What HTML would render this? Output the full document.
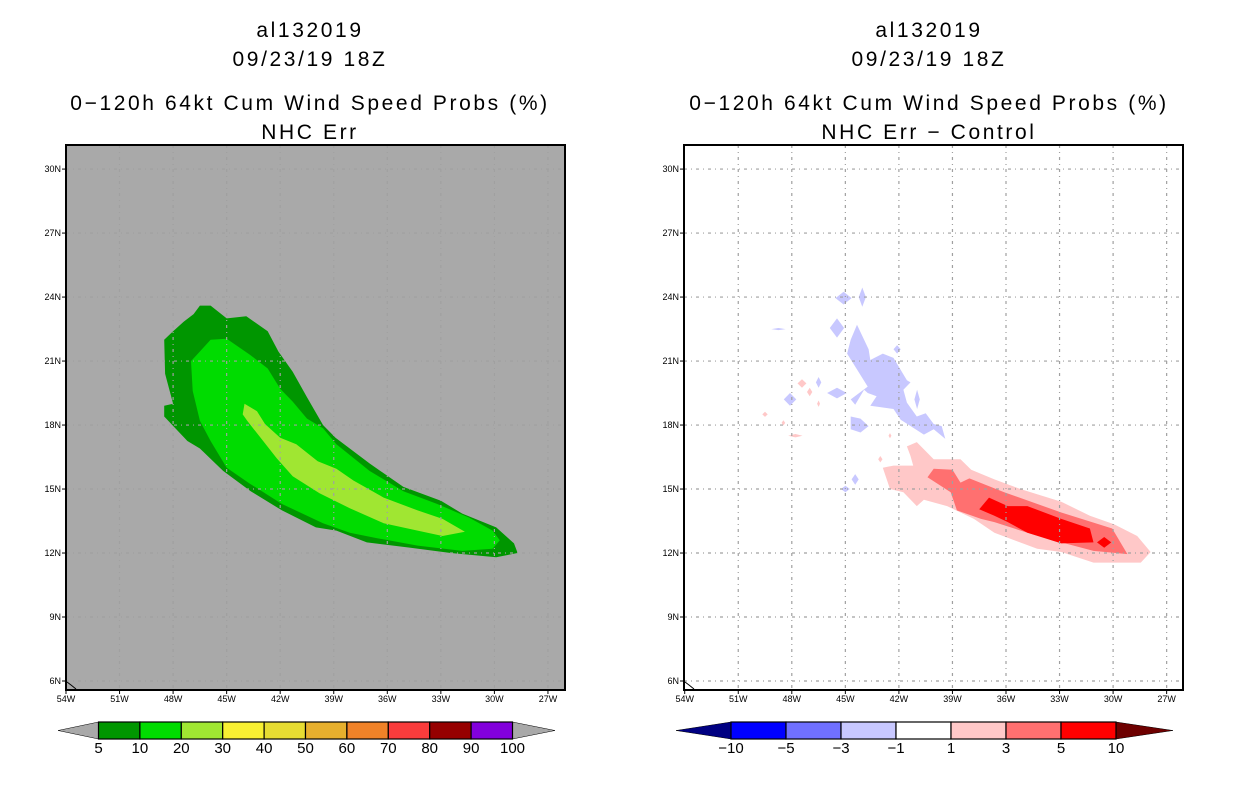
<!DOCTYPE html>
<html><head><meta charset="utf-8">
<style>
body{margin:0;background:#fff;width:1236px;height:800px;overflow:hidden;font-family:"Liberation Sans",sans-serif}
svg{display:block}
</style></head>
<body>
<svg id="fig" width="1236" height="800" xmlns="http://www.w3.org/2000/svg" font-family="Liberation Sans, sans-serif">
<g id="titles" font-size="21" text-anchor="middle" fill="#000" letter-spacing="2.6">
 <text x="310" y="37">al132019</text>
 <text x="310" y="66">09/23/19 18Z</text>
 <text x="310" y="110">0−120h 64kt Cum Wind Speed Probs (%)</text>
 <text x="310" y="139">NHC Err</text>
 <text x="929" y="37">al132019</text>
 <text x="929" y="66">09/23/19 18Z</text>
 <text x="929" y="110">0−120h 64kt Cum Wind Speed Probs (%)</text>
 <text x="929" y="139">NHC Err − Control</text>
</g>
<g id="left"></g>
<g id="right"></g>
<g id="cbl"></g>
<g id="cbr"></g>
</svg>
<script>
const NS="http://www.w3.org/2000/svg";
const lonTicks=[-54,-51,-48,-45,-42,-39,-36,-33,-30,-27];
const latTicks=[6,9,12,15,18,21,24,27,30];
// Left map contours (lon, lat)
const green5=[[-46.5,23.6],[-45.9,23.6],[-45.0,23.0],[-43.9,23.1],[-42.7,22.4],[-42.1,21.45],[-41.3,20.5],[-40.5,19.3],[-39.6,18.0],[-38.9,17.4],[-37.0,16.2],[-35.1,15.1],[-33.0,14.45],[-31.8,13.85],[-29.9,13.2],[-28.9,12.45],[-28.7,12.0],[-29.9,11.8],[-32.45,12.0],[-34.7,12.25],[-37.15,12.5],[-38.85,13.05],[-40.0,13.2],[-41.9,14.0],[-43.65,14.9],[-45.2,15.85],[-46.5,16.9],[-47.2,17.25],[-48.5,18.4],[-48.5,18.9],[-48.0,19.0],[-48.45,20.4],[-48.5,22.0],[-48.0,22.4],[-47.4,22.85],[-46.85,23.2]];
const green10=[[-45.9,22.0],[-45.0,22.05],[-43.7,21.3],[-42.7,20.65],[-42.0,19.7],[-41.3,19.1],[-40.5,18.3],[-39.6,17.85],[-38.85,17.1],[-37.0,15.85],[-35.1,14.9],[-33.2,14.3],[-31.4,13.65],[-30.1,13.05],[-29.7,12.6],[-30.1,12.2],[-31.8,12.1],[-34.3,12.35],[-36.6,12.7],[-38.1,12.95],[-39.6,13.4],[-41.9,14.3],[-43.7,15.25],[-45.0,16.0],[-45.9,17.25],[-46.5,18.2],[-46.9,19.6],[-47.0,21.0],[-46.5,21.45]];
const green20=[[-44.0,19.0],[-43.3,18.65],[-42.85,18.05],[-42.0,17.4],[-41.1,17.1],[-39.9,16.3],[-38.85,15.95],[-37.9,15.4],[-36.2,14.6],[-34.3,14.0],[-32.9,13.6],[-31.65,13.0],[-32.9,12.8],[-34.3,13.05],[-36.2,13.4],[-38.1,14.1],[-39.8,14.8],[-41.3,15.6],[-42.2,16.45],[-43.1,17.4],[-43.85,18.2],[-44.1,18.5]];
// Right map contours (lon, lat)
const pos1=[[-41.55,17.0],[-41.0,17.2],[-40.05,16.4],[-38.55,16.4],[-37.95,15.9],[-36.65,15.45],[-35.2,15.0],[-32.9,14.4],[-31.3,13.75],[-29.95,13.35],[-28.65,12.8],[-27.9,12.05],[-28.45,11.55],[-31.1,11.55],[-32.9,12.05],[-34.25,12.2],[-36.65,12.95],[-37.8,13.6],[-39.3,14.2],[-40.6,14.5],[-41.0,14.2],[-41.75,14.85],[-42.5,15.0],[-42.9,16.0],[-42.3,16.1],[-41.2,16.1],[-41.35,16.55]];
const pos3=[[-40.4,15.55],[-40.05,15.95],[-39.0,15.9],[-38.55,15.3],[-38.05,15.5],[-36.1,14.85],[-32.9,13.9],[-30.05,13.15],[-29.2,11.95],[-31.1,12.1],[-32.9,12.5],[-34.8,12.95],[-36.65,13.45],[-37.4,13.6],[-38.75,14.0],[-39.1,14.85]];
const pos5=[[-37.5,14.05],[-36.95,14.6],[-35.9,14.2],[-34.8,14.2],[-32.9,13.6],[-31.3,13.15],[-31.1,12.5],[-32.9,12.45],[-34.8,12.95],[-35.9,13.45],[-36.65,13.75]];
const neg1=[[-44.35,22.7],[-43.7,21.55],[-43.6,21.05],[-42.9,21.35],[-42.3,21.15],[-41.55,20.1],[-41.35,20.0],[-41.75,19.65],[-41.55,19.05],[-41.0,18.4],[-40.5,18.55],[-40.05,18.05],[-39.6,17.95],[-39.4,17.35],[-40.05,17.8],[-40.6,17.55],[-41.9,18.25],[-42.3,18.75],[-43.6,18.9],[-43.25,19.35],[-43.75,19.5],[-43.95,19.65],[-44.45,18.95],[-44.7,19.2],[-43.75,19.8],[-44.9,21.35],[-44.7,22.0]];
const neg1b=[[-44.7,18.4],[-44.15,18.3],[-43.7,17.95],[-44.15,17.65],[-44.7,17.8]];
// small blobs: lon, lat, rx(deg), ry(deg), sign
const blobLon=[-45.1,-44.05,-45.47,-48.1,-45.47,-46.5,-42.1,-40.98,-44.45,-45.0,-48.75,-30.5,-47.43,-47.0,-49.5,-48.47,-47.8,-43.04,-42.5,-46.5];
const blobLat=[23.95,24.0,22.55,19.2,19.5,20.0,21.55,19.2,15.45,15.0,22.5,12.5,19.95,19.55,18.5,18.1,17.5,16.4,17.5,19.0];
const blobRx=[0.45,0.2,0.4,0.35,0.55,0.15,0.2,0.15,0.2,0.25,0.4,0.4,0.25,0.15,0.15,0.1,0.4,0.12,0.08,0.08];
const blobRy=[0.3,0.45,0.45,0.3,0.25,0.25,0.2,0.45,0.25,0.15,0.05,0.25,0.2,0.2,0.12,0.12,0.08,0.15,0.12,0.15];
const blobSign=[-1,-1,-1,-1,-1,-1,-1,-1,-1,-1,-1,5,1,1,1,1,1,1,1,1];
// colorbars
const probLevels=[5,10,20,30,40,50,60,70,80,90,100];
const probColors=["#009600","#00dc00","#a0e632","#f8f032","#e6dc32","#e6af2d","#f08228","#fa3c3c","#960000","#8200dc"];
const diffLevels=["−10","−5","−3","−1","1","3","5","10"];
const diffColors=["#0000ff","#7070ff","#c8c8ff","#ffffff","#ffc8c8","#ff7070","#ff0000"];

const T={y0:681,py:21.33,px:17.85,top:145,bot:690};
function mk(tag,attrs,parent){const e=document.createElementNS(NS,tag);for(const k in attrs)e.setAttribute(k,attrs[k]);parent.appendChild(e);return e;}
function xs(x0,lon){return x0+(lon+54)*T.px;}
function ys(lat){return T.y0-(lat-6)*T.py;}
function poly(x0,pts,fill,g,name){
 const p=mk('polygon',{points:pts.map(q=>xs(x0,q[0]).toFixed(1)+','+ys(q[1]).toFixed(1)).join(' '),fill:fill},g);
 
 
}
function map(gid,x0,L,R,bg){
 const g=document.getElementById(gid);
 const clipId=gid+'clip';
 const defs=mk('defs',{},g);
 const cp=mk('clipPath',{id:clipId},defs);mk('rect',{x:L,y:T.top,width:R-L,height:T.bot-T.top},cp);
 const bgr=mk('rect',{x:L,y:T.top,width:R-L,height:T.bot-T.top,fill:bg},g);
 
 
 const inner=mk('g',{'clip-path':'url(#'+clipId+')'},g);
 return {g,inner};
}
function grid(m,x0,L,R){
 const gg=mk('g',{stroke:'#a0a0a0','stroke-width':1.2,'stroke-dasharray':'3,4,1,4'},m.inner);
 
 
 lonTicks.forEach(l=>{if(l>-54){const x=xs(x0,l);mk('line',{x1:x,y1:T.top,x2:x,y2:T.bot},gg);}});
 latTicks.forEach(l=>{const y=ys(l);mk('line',{x1:L,y1:y,x2:R,y2:y},gg);});
 mk('polyline',{points:(L+1)+','+(T.bot-8)+' '+(L+5)+','+(T.bot-5)+' '+(L+10)+','+(T.bot-1),fill:'none',stroke:'#000','stroke-width':1},m.g);
 const fr=mk('rect',{x:L,y:T.top,width:R-L,height:T.bot-T.top,fill:'none',stroke:'#000','stroke-width':2},m.g);
 
 
 const ax=mk('g',{'font-size':9,fill:'#000'},m.g);
 
 
 latTicks.forEach(l=>{const y=ys(l);mk('line',{x1:L-4,y1:y,x2:L,y2:y,stroke:'#000'},ax);
  const t=mk('text',{x:L-5,y:y+3,'text-anchor':'end'},ax);t.textContent=l+'N';
  
  });
 lonTicks.forEach(l=>{const x=xs(x0,l);mk('line',{x1:x,y1:T.bot,x2:x,y2:T.bot+4,stroke:'#000'},ax);
  const t=mk('text',{x:x,y:T.bot+12,'text-anchor':'middle'},ax);t.textContent=(-l)+'W';
  
  });
}
const LX=66;
const ml=map('left',LX,66,565,'#a9a9a9');
poly(LX,green5,'#009600',ml.inner,'contour-5pct');
poly(LX,green10,'#00dc00',ml.inner,'contour-10pct');
poly(LX,green20,'#a0e632',ml.inner,'contour-20pct');
grid(ml,LX,66,565);
const RX=684.7;
const mr=map('right',RX,684,1183,'#ffffff');
poly(RX,pos1,'#ffc8c8',mr.inner,'diff-contour-plus1');
poly(RX,pos3,'#ff7070',mr.inner,'diff-contour-plus3');
poly(RX,pos5,'#ff0000',mr.inner,'diff-contour-plus5');
poly(RX,neg1,'#c8c8ff',mr.inner,'diff-contour-minus1');
poly(RX,neg1b,'#c8c8ff',mr.inner,'diff-contour-minus1-b');
blobLon.forEach((lo,i)=>{
 const c=blobSign[i]<0?'#c8c8ff':(blobSign[i]>=5?'#ff0000':'#ffc8c8');
 const pts=[[lo-blobRx[i],blobLat[i]],[lo,blobLat[i]+blobRy[i]],[lo+blobRx[i],blobLat[i]],[lo,blobLat[i]-blobRy[i]]];
 poly(RX,pts,c,mr.inner,'diff-blob');
});
grid(mr,RX,684,1183);
function colorbar(gid,x1,x2,y1,y2,tipL,tipR,colors,labels,lc,rc){
 const g=document.getElementById(gid);
 const n=colors.length,w=(x2-x1)/n,ym=(y1+y2)/2;
 const a=mk('polygon',{points:`${tipL},${ym} ${x1},${y1} ${x1},${y2}`,fill:lc,stroke:'#000','stroke-width':0.5},g);
 
 
 const b=mk('polygon',{points:`${tipR},${ym} ${x2},${y1} ${x2},${y2}`,fill:rc,stroke:'#000','stroke-width':0.5},g);
 
 
 colors.forEach((c,i)=>{const r=mk('rect',{x:x1+i*w,y:y1,width:w,height:y2-y1,fill:c,stroke:'#000','stroke-width':1.2},g);
  
  });
 labels.forEach((l,i)=>{const t=mk('text',{x:x1+i*w,y:y2+14,'font-size':15,'text-anchor':'middle'},g);t.textContent=l;
  
  });
}
colorbar('cbl',98.5,512.5,722,739,58,555,probColors,probLevels,'#a9a9a9','#a9a9a9');
colorbar('cbr',731,1116,722,739,676,1173,diffColors,diffLevels,'#000082','#6e0000');
</script>
</body></html>
